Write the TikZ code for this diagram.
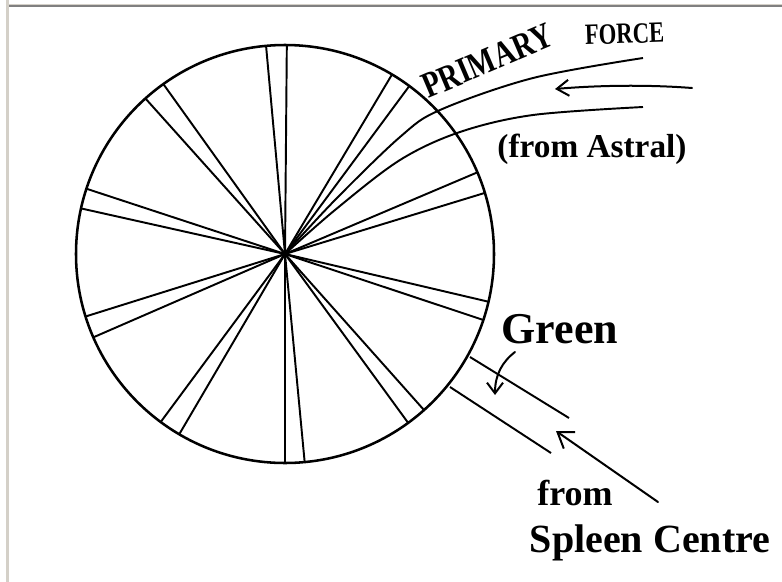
\documentclass[tikz,border=0pt]{standalone}
\usepackage{fontspec}
\setmainfont{Liberation Serif}
\usetikzlibrary{arrows.meta}
\definecolor{frameLight}{HTML}{D4D0C8}
\definecolor{frameDark}{HTML}{808080}
\newcommand{\inkfont}[1]{\fontsize{#1}{#1}\selectfont\bfseries}
\begin{document}
\begin{tikzpicture}[x=0.75pt,y=-0.75pt,
  rim/.style={line width=1.9pt},
  ray/.style={line width=1.45pt},
  ink/.style={line width=1.5pt, line cap=round},
  barbA/.style={-{Straight Barb[length=9pt,width=12pt,line width=1.5pt]}},
  barbB/.style={-{Straight Barb[length=8pt,width=12pt,line width=1.5pt]}},
  barbC/.style={-{Straight Barb[length=11pt,width=15pt,line width=1.5pt]}},
  lbl/.style={inner sep=0pt, text=black}]
\useasboundingbox (0,0) rectangle (782,582);
\fill[white] (0,0) rectangle (782,582);
% window frame
\fill[frameLight] (6,0) rectangle (8.5,582);
\fill[frameLight] (6,3.5) rectangle (782,5);
\fill[frameDark] (8.5,5) rectangle (782,7);

% wheel
\coordinate (C) at (285,254);
\draw[rim] (C) circle [radius=209];
\foreach \a in {95.2,89.5,59.2,53.5,23,17,-13.2,-18.4,-48.3,-53.9,-84.6,-90,-120.4,-126.5,-156.5,-162.6,167.4,161.8,131.9,125.6}
  \draw[ray] (C) -- ++({209*cos(\a)},{-209*sin(\a)});

% primary force streams
\draw[ray] plot[smooth, tension=0.55] coordinates {(285,254) (335,200) (400,137) (440,110) (533,78) (643,58)};
\draw[ray] plot[smooth, tension=0.55] coordinates {(285,254) (335,210) (400,160) (460,132) (533,115) (643,107)};
\coordinate (pfTail) at (692,88);
\coordinate (pfTip) at (555,89);
\draw[ink, barbA] (pfTail) .. controls (640,84) and (590,86) .. (pfTip);

\node[lbl, anchor=base west, rotate=23, font=\inkfont{21}] (primary) at (428,99) {\scalebox{1.03}[1.3]{PRIMARY}};
\node[lbl, anchor=base west, rotate=2, font=\inkfont{17}] (force) at (585,45) {\scalebox{1}[1.3]{FORCE}};
\node[lbl, anchor=base, font=\inkfont{25}] (astral) at (592,157) {(from Astral)};

% spleen channel
\coordinate (chA1) at (470,357);
\coordinate (chA2) at (569,418);
\coordinate (chB1) at (450,387);
\coordinate (chB2) at (551,453);
\draw[ray] (chA1) -- (chA2);
\draw[ray] (chB1) -- (chB2);

\node[lbl, anchor=base, font=\inkfont{33}] (green) at (560,343) {Green};
\coordinate (gTail) at (515,352);
\coordinate (gTip) at (495,395);
\draw[ink, barbB] (gTail) .. controls (502,362) and (495,375) .. (gTip);

\coordinate (sTail) at (658,502);
\coordinate (sTip) at (556,431);
\draw[ink, barbC] (sTail) -- (sTip);

\node[lbl, anchor=base, font=\inkfont{27}] (from) at (575,505) {from};
\node[lbl, anchor=base, font=\inkfont{30}] (spleen) at (650,552) {Spleen Centre};
\end{tikzpicture}
\end{document}
